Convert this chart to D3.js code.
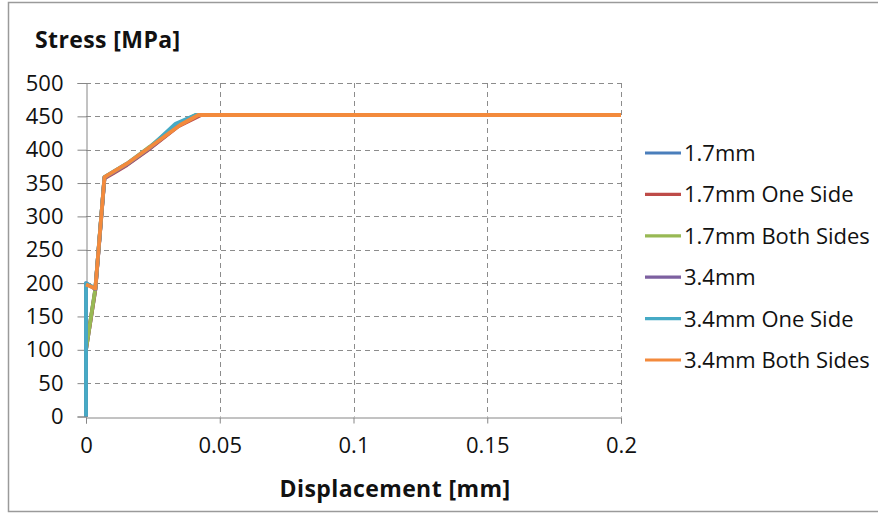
<!DOCTYPE html>
<html>
<head>
<meta charset="utf-8">
<script src="https://cdn.jsdelivr.net/npm/d3@7"></script>
<style>
  html, body { margin: 0; padding: 0; background: #fff; }
  svg { display: block; }
  text { font-family: "Open Sans", "DejaVu Sans", sans-serif; fill: #111; }
</style>
</head>
<body>
<svg id="chart" width="878" height="516"></svg>
<script>
// Stress–displacement curves, [displacement mm, stress MPa]
const seriesNames = ["1.7mm", "1.7mm One Side", "1.7mm Both Sides", "3.4mm", "3.4mm One Side", "3.4mm Both Sides"];
const seriesColors = ["#4A7EBB", "#BE4B48", "#98B954", "#7D60A0", "#46AAC5", "#F38A3C"];

const s17 = [[0, 0], [0, 100], [0.0035, 191], [0.0069, 358], [0.0103, 366], [0.0153, 378], [0.024, 403], [0.0345, 436], [0.042, 452], [0.2, 452]];
const s17One = [[0, 0], [0, 100], [0.0035, 190], [0.0069, 357], [0.0103, 365], [0.0153, 377], [0.024, 402], [0.0345, 435], [0.043, 452], [0.2, 452]];
const s17Both = [[0, 0], [0, 100], [0.0035, 192], [0.0069, 359], [0.0103, 367], [0.0153, 379], [0.024, 405], [0.034, 438], [0.041, 452], [0.2, 452]];
const s34 = [[0, 0], [0, 200], [0.0035, 191], [0.0069, 358], [0.0103, 366], [0.0153, 378], [0.024, 403], [0.0345, 437], [0.042, 452], [0.2, 452]];
const s34One = [[0, 0], [0, 200], [0.0035, 192], [0.0069, 359], [0.0103, 367], [0.0153, 379], [0.024, 404], [0.0335, 439], [0.041, 452], [0.2, 452]];
const s34Both = [[0, 198], [0.0035, 192], [0.0069, 359], [0.0103, 367], [0.0153, 379], [0.024, 404], [0.0352, 437], [0.042, 452], [0.2, 452]];
const seriesValues = [s17, s17One, s17Both, s34, s34One, s34Both];

const xTicks = [0, 0.05, 0.1, 0.15, 0.2];
const xTickLabels = ["0", "0.05", "0.1", "0.15", "0.2"];
const yTicks = [0, 50, 100, 150, 200, 250, 300, 350, 400, 450, 500];

const svg = d3.select("#chart");
const plotLeft = 86, plotRight = 621, plotTop = 83, plotBottom = 416.5;

// outer frame
svg.append("rect")
  .attr("x", 8.5).attr("y", 2.5).attr("width", 880).attr("height", 509)
  .attr("fill", "#fff").attr("stroke", "#9a9a9a").attr("stroke-width", 1.5);

const x = d3.scaleLinear().domain([0, 0.2]).range([plotLeft, plotRight]);
const y = d3.scaleLinear().domain([0, 500]).range([plotBottom, plotTop]);

// gridlines
const grid = svg.append("g").attr("stroke", "#8c8c8c").attr("stroke-width", 1).attr("stroke-dasharray", "5,4");
grid.selectAll("line.h").data(yTicks.filter(v => v > 0)).join("line").attr("class", "h")
  .attr("x1", plotLeft).attr("x2", plotRight)
  .attr("y1", d => Math.round(y(d)) + 0.5).attr("y2", d => Math.round(y(d)) + 0.5);
grid.selectAll("line.v").data(xTicks.filter(v => v > 0)).join("line").attr("class", "v")
  .attr("y1", plotTop).attr("y2", plotBottom)
  .attr("x1", d => Math.round(x(d)) + 0.5).attr("x2", d => Math.round(x(d)) + 0.5);

// axes
const yAxis = d3.axisLeft(y).tickValues(yTicks).tickSize(9).tickPadding(14).tickFormat(d3.format("d"));
const xAxis = d3.axisBottom(x).tickValues(xTicks).tickSize(6).tickPadding(14).tickFormat((d, i) => xTickLabels[i]);

const gy = svg.append("g").attr("transform", `translate(${plotLeft + 0.5},0)`).call(yAxis);
const gx = svg.append("g").attr("transform", `translate(0,${Math.round(plotBottom) + 0.5})`).call(xAxis);
[gy, gx].forEach(g => {
  g.select(".domain").attr("stroke", "#868686");
  g.selectAll(".tick line").attr("stroke", "#868686");
  g.selectAll(".tick text").attr("font-size", 22).attr("fill", "#111")
    .attr("font-family", "'Open Sans', sans-serif");
});

// curves
const line = d3.line().x(d => x(d[0])).y(d => y(d[1]));
svg.append("g").selectAll("path").data(seriesValues).join("path")
  .attr("d", line)
  .attr("fill", "none")
  .attr("stroke", (d, i) => seriesColors[i])
  .attr("stroke-width", 3.8)
  .attr("stroke-linejoin", "round");

// titles
svg.append("text").attr("x", 35).attr("y", 48)
  .attr("font-size", 23).attr("font-weight", "bold").attr("letter-spacing", 0.4).text("Stress [MPa]");
svg.append("text").attr("x", 395).attr("y", 497).attr("text-anchor", "middle")
  .attr("font-size", 23).attr("font-weight", "bold").attr("letter-spacing", 0.4).text("Displacement [mm]");

// legend
const legend = svg.append("g");
const rows = legend.selectAll("g").data(seriesNames).join("g")
  .attr("transform", (d, i) => `translate(645,${153 + i * 41.4})`);
rows.append("line").attr("x1", 0).attr("x2", 36).attr("y1", 0).attr("y2", 0)
  .attr("stroke", (d, i) => seriesColors[i]).attr("stroke-width", 3.2);
rows.append("text").attr("x", 39).attr("y", 0).attr("dy", "0.36em")
  .attr("font-size", 22).text(d => d);
</script>
</body>
</html>
